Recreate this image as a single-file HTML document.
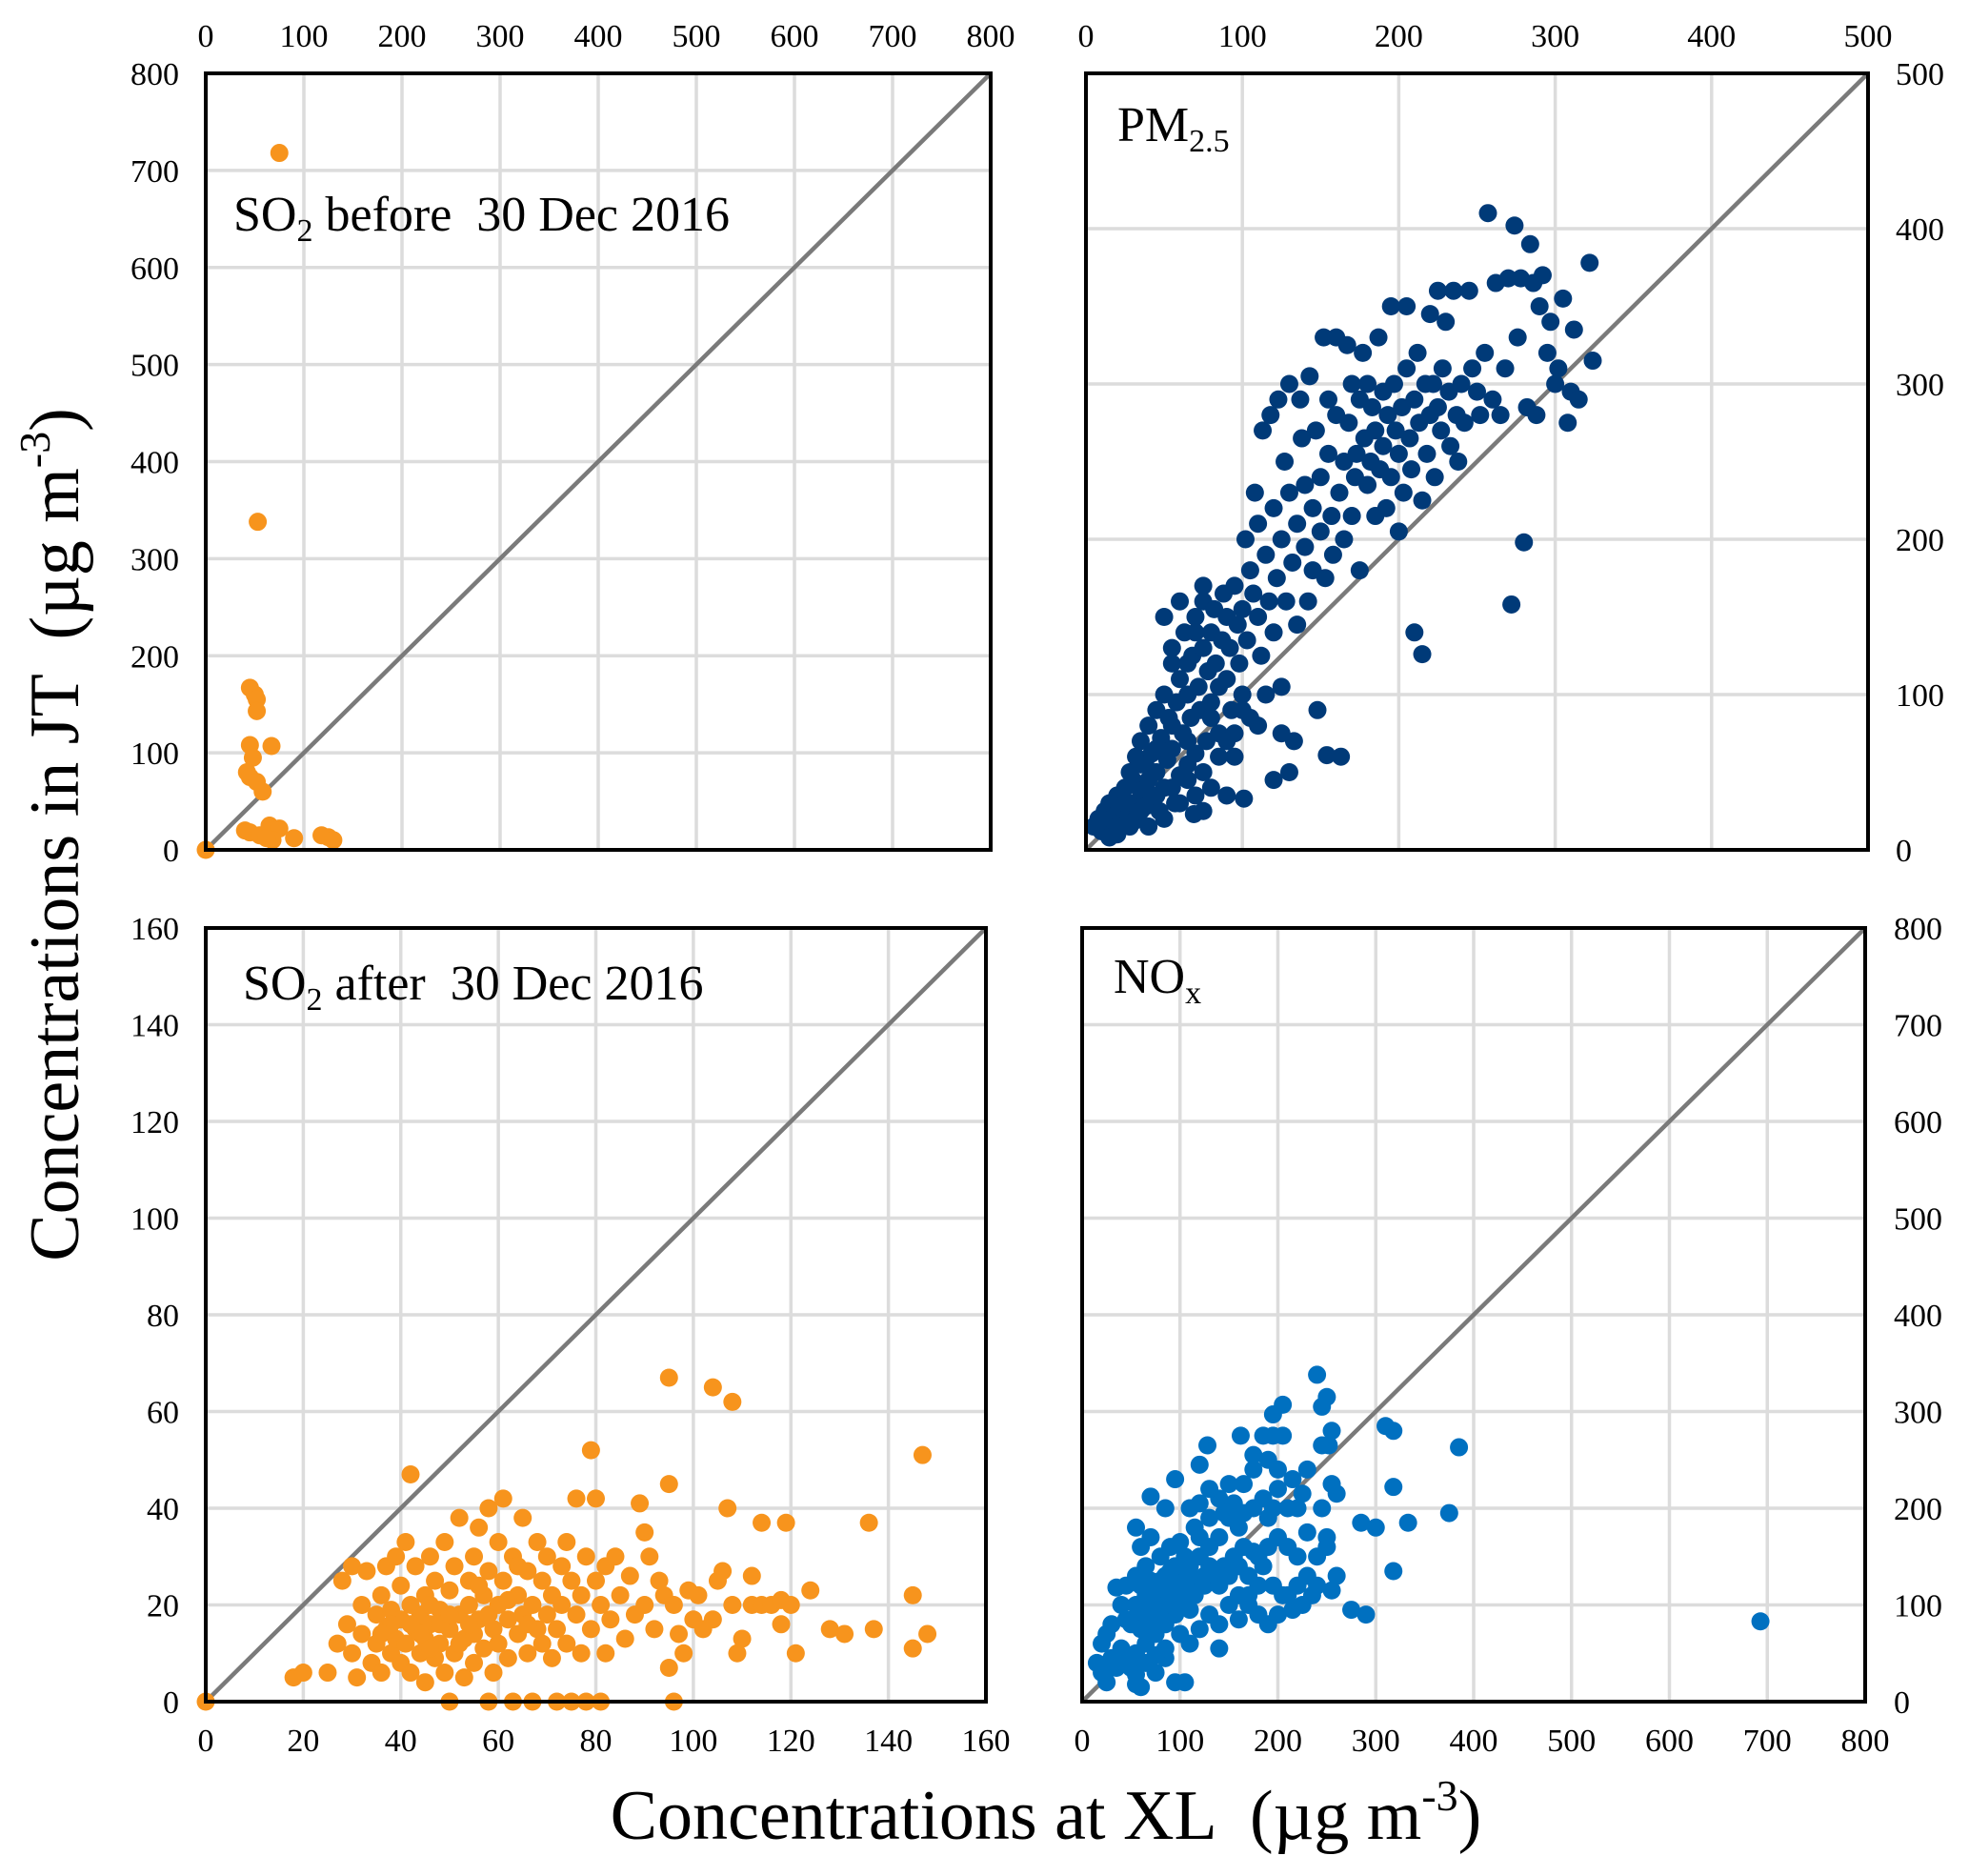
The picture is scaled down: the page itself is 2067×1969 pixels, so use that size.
<!DOCTYPE html>
<html><head><meta charset="utf-8">
<style>
html,body{margin:0;padding:0;background:#fff;}
svg{display:block;font-family:"Liberation Serif",serif;}
text{white-space:pre;}
</style></head>
<body>
<svg id="chart" width="2067" height="1969" viewBox="0 0 2067 1969" xmlns="http://www.w3.org/2000/svg">
<text transform="translate(82,876) rotate(-90)" text-anchor="middle" font-size="74">Concentrations in JT  (µg m<tspan dy="-30" font-size="46">-3</tspan><tspan dy="30">)</tspan></text>
<text x="1098" y="1930" text-anchor="middle" font-size="74">Concentrations at XL  (µg m<tspan dy="-30" font-size="46">-3</tspan><tspan dy="30">)</tspan></text>
</svg>
<script>
// ---- data ----
const so2BeforeX = [0,75,53,45,50,52,52,45,67,48,42,45,52,58,40,45,55,65,70,75,68,90,118,125,130,62];
const so2BeforeY = [0,718,338,167,160,155,143,108,107,95,80,75,70,60,20,18,15,25,20,22,10,12,15,13,10,12];

const pmPts = [[5,15],[8,20],[10,12],[12,25],[15,18],[15,30],[18,22],[20,35],[20,10],[22,28],[25,40],[25,20],[28,15],[28,50],[30,30],[30,45],[32,60],[33,22],[35,38],[35,70],[38,55],[38,28],[40,80],[40,45],[42,35],[42,62],[45,90],[45,50],[47,25],[48,72],[50,100],[50,40],[52,58],[53,85],[55,120],[55,65],[57,30],[58,95],[60,110],[60,48],[62,75],[63,140],[65,55],[65,100],[67,85],[68,125],[70,62],[70,150],[72,105],[73,90],[75,130],[75,160],[77,70],[78,115],[80,140],[80,95],[82,155],[83,120],[85,105],[85,75],[87,135],[88,165],[90,110],[90,150],[92,130],[93,90],[95,170],[95,60],[97,145],[98,120],[100,155],[100,100],[102,200],[103,135],[105,180],[105,85],[107,165],[108,230],[110,150],[110,210],[112,125],[113,270],[115,190],[115,100],[117,160],[118,280],[120,220],[120,140],[122,175],[123,290],[125,200],[125,105],[127,250],[128,160],[130,230],[130,300],[132,185],[133,70],[135,210],[135,145],[137,290],[138,265],[140,195],[140,235],[142,160],[143,305],[145,220],[145,180],[147,270],[148,90],[150,240],[150,205],[152,330],[153,175],[155,255],[155,290],[157,215],[158,190],[160,280],[160,330],[162,230],[163,60],[165,250],[165,200],[167,325],[168,275],[170,215],[170,300],[172,240],[173,255],[175,290],[175,180],[177,320],[178,265],[180,235],[180,300],[182,250],[183,285],[185,215],[185,270],[187,330],[188,245],[190,295],[190,260],[192,220],[193,280],[195,350],[195,240],[197,300],[198,270],[200,255],[200,205],[202,285],[203,230],[205,310],[205,350],[207,265],[208,245],[210,290],[210,140],[212,320],[213,275],[215,126],[215,225],[217,300],[218,255],[220,345],[220,280],[222,300],[223,240],[225,360],[225,285],[227,270],[228,310],[230,340],[232,295],[233,260],[235,360],[237,280],[238,250],[240,300],[242,275],[245,360],[247,310],[250,295],[252,280],[255,320],[257,410],[260,290],[262,365],[265,280],[268,310],[270,368],[272,158],[274,402],[276,330],[278,368],[280,198],[282,285],[284,390],[286,365],[288,280],[290,350],[292,370],[295,320],[297,340],[300,300],[302,310],[305,355],[308,275],[310,295],[312,335],[315,290],[322,378],[324,315],[75,25],[80,40],[90,35],[101,33],[69,23],[120,45],[130,50],[154,61],[125,75],[100,90],[95,75],[110,80],[10,20],[15,8],[20,15],[25,30],[30,18],[35,25],[40,15],[45,35],[50,20],[55,40],[60,30],[65,45],[70,35],[35,55],[45,65],[55,80],[65,70],[75,50],[85,60],[50,150],[60,160],[70,140],[75,170],[55,130],[65,120],[80,85],[90,70]];

const so2AfterPts = [[0,0],[18,5],[20,6],[25,6],[27,12],[28,25],[29,16],[30,28],[30,10],[31,5],[32,20],[32,14],[33,27],[34,8],[35,18],[35,12],[36,22],[36,6],[37,15],[37,28],[38,10],[38,19],[39,13],[39,30],[40,8],[40,17],[40,24],[41,12],[41,33],[42,47],[42,20],[42,6],[43,15],[43,28],[44,10],[44,18],[45,22],[45,4],[45,13],[46,30],[46,16],[47,9],[47,25],[48,19],[48,12],[49,33],[49,6],[50,15],[50,23],[50,0],[51,10],[51,28],[52,18],[52,38],[53,13],[53,5],[54,25],[54,20],[55,30],[55,8],[55,14],[56,17],[56,36],[57,22],[57,11],[58,40],[58,27],[58,0],[59,15],[59,6],[60,20],[60,33],[60,12],[61,25],[61,42],[62,17],[62,9],[63,30],[63,0],[64,22],[64,14],[65,38],[65,18],[66,27],[66,10],[67,20],[67,0],[68,33],[68,15],[69,25],[69,12],[70,18],[70,30],[71,22],[71,9],[72,0],[72,15],[73,28],[73,20],[74,12],[74,33],[75,25],[75,0],[76,18],[76,42],[77,10],[77,22],[78,30],[78,0],[79,52],[79,15],[80,25],[80,42],[81,20],[81,0],[82,10],[82,28],[83,17],[84,30],[85,22],[86,13],[87,26],[88,18],[89,41],[90,20],[90,35],[91,30],[92,15],[93,25],[94,22],[95,7],[95,45],[95,67],[96,0],[96,20],[97,14],[98,10],[99,23],[100,17],[101,22],[102,15],[104,17],[104,65],[105,25],[106,27],[107,40],[108,62],[108,20],[109,10],[110,13],[112,20],[112,26],[114,20],[114,37],[116,20],[118,16],[118,21],[119,37],[120,20],[121,10],[124,23],[128,15],[131,14],[136,37],[137,15],[145,22],[145,11],[147,51],[148,14],[44,14],[46,20],[48,16],[52,12],[54,16],[56,24],[58,18],[62,21],[64,28],[66,16],[46,11],[50,18],[42,16],[38,16],[36,14]];

const noxPts = [[693,83],[240,338],[250,315],[245,305],[205,307],[195,297],[162,275],[185,275],[195,275],[205,275],[128,265],[120,245],[95,230],[85,200],[70,212],[55,180],[310,285],[318,280],[385,263],[318,222],[375,195],[333,185],[300,180],[285,185],[318,135],[290,90],[275,95],[255,280],[252,265],[245,265],[260,215],[255,225],[245,200],[225,215],[215,230],[230,240],[200,240],[190,250],[175,255],[175,240],[210,200],[190,190],[165,225],[150,225],[140,210],[130,220],[120,205],[110,200],[130,190],[150,190],[160,180],[140,170],[120,170],[100,165],[90,160],[80,150],[70,170],[60,160],[65,140],[55,130],[45,120],[40,100],[35,118],[30,80],[25,70],[20,60],[15,40],[20,30],[25,20],[30,45],[40,55],[50,35],[55,18],[60,15],[75,30],[85,45],[95,20],[105,20],[110,60],[120,75],[130,90],[140,80],[150,100],[160,110],[170,100],[180,90],[190,80],[200,90],[210,110],[220,120],[230,130],[240,150],[250,170],[260,130],[235,110],[225,100],[215,95],[195,120],[185,140],[175,155],[165,160],[155,150],[145,140],[135,130],[125,120],[115,110],[105,100],[95,90],[85,80],[75,70],[65,60],[55,50],[45,45],[35,35],[100,130],[90,120],[80,110],[70,100],[60,90],[50,80],[110,140],[120,150],[130,160],[115,180],[105,150],[95,140],[85,130],[75,120],[65,110],[55,100],[45,85],[100,110],[90,100],[80,95],[70,85],[60,75],[140,120],[150,130],[160,140],[170,130],[180,150],[190,160],[200,170],[210,160],[220,150],[195,200],[185,210],[175,200],[165,195],[155,205],[145,195],[200,220],[220,200],[230,175],[250,160],[255,115],[240,120],[205,110],[180,120],[170,110],[160,85],[140,55],[110,95],[100,70],[85,55],[75,48],[65,40],[55,28],[130,140],[125,130],[115,125],[105,120],[95,110],[85,100],[100,120],[110,130],[90,135],[80,125],[70,125],[60,120]];

const so2BeforeXTicks = [0,100,200,300,400,500,600,700,800];
const pmTicks = [0,100,200,300,400,500];
const so2AfterTicks = [0,20,40,60,80,100,120,140,160];
const noxTicks = [0,100,200,300,400,500,600,700,800];

// ---- drawing ----
const NS = "http://www.w3.org/2000/svg";
const svg = document.getElementById('chart');
function mk(tag, attrs, parent){
  const e = document.createElementNS(NS, tag);
  for (const k in attrs) e.setAttribute(k, attrs[k]);
  (parent||svg).appendChild(e);
  return e;
}
function scale(d0,d1,r0,r1){ return v => r0 + (v-d0)/(d1-d0)*(r1-r0); }

function panel(opt){
  const g = mk('g', {});
  
  
  const xs = scale(0, opt.max, opt.x0, opt.x1);
  const ys = scale(0, opt.max, opt.y1, opt.y0);
  opt.ticks.forEach(t => {
    if (t>0 && t<opt.max){
      const gx = mk('line', {x1:xs(t), x2:xs(t), y1:opt.y0, y2:opt.y1, stroke:'#dcdcdc', 'stroke-width':3.5}, g);
      
      
      const gy = mk('line', {x1:opt.x0, x2:opt.x1, y1:ys(t), y2:ys(t), stroke:'#dcdcdc', 'stroke-width':3.5}, g);
      
      
    }
  });
  const dl = mk('line', {x1:xs(0), y1:ys(0), x2:xs(opt.max), y2:ys(opt.max), stroke:'#7a7a7a', 'stroke-width':4.5}, g);
  
  
  for (let i=0;i<opt.xv.length;i++){
    const c = mk('circle', {cx:xs(opt.xv[i]), cy:ys(opt.yv[i]), r:9.5, fill:opt.color}, g);
    
    
  }
  const fr = mk('rect', {x:opt.x0, y:opt.y0, width:opt.x1-opt.x0, height:opt.y1-opt.y0, fill:'none', stroke:'#000', 'stroke-width':4}, g);
  
  
  opt.ticks.forEach(t => {
    const tx = mk('text', {x:xs(t), y:opt.xLabelY, 'text-anchor':'middle', 'font-size':34}, g);
    tx.textContent = t;
    
    
  });
  opt.ticks.forEach(t => {
    const ty = mk('text', {x:opt.yLabelX, y:ys(t)+12, 'text-anchor':opt.yAnchor, 'font-size':34}, g);
    ty.textContent = t;
    
    
  });
  const tt = mk('text', {x:opt.tx, y:opt.ty, 'font-size':52}, g);
  
  
  tt.innerHTML = opt.title;
}

panel({name:'so2-before-panel', x0:216, x1:1040, y0:77, y1:892, max:800,
  ticks:so2BeforeXTicks, xv:so2BeforeX, yv:so2BeforeY, color:'#f7941d',
  xLabelY:49, yLabelX:188, yAnchor:'end', tx:245, ty:242,
  title:'SO<tspan dy="11" font-size="34">2</tspan><tspan dy="-11"> before  30 Dec 2016</tspan>'});

panel({name:'pm25-panel', x0:1140, x1:1961, y0:77, y1:892, max:500,
  ticks:pmTicks, xv:pmPts.map(p=>p[0]), yv:pmPts.map(p=>p[1]), color:'#003a78',
  xLabelY:49, yLabelX:1990, yAnchor:'start', tx:1173, ty:148,
  title:'PM<tspan dy="11" font-size="34">2.5</tspan>'});

panel({name:'so2-after-panel', x0:216, x1:1035, y0:974, y1:1786, max:160,
  ticks:so2AfterTicks, xv:so2AfterPts.map(p=>p[0]), yv:so2AfterPts.map(p=>p[1]), color:'#f7941d',
  xLabelY:1838, yLabelX:188, yAnchor:'end', tx:255, ty:1049,
  title:'SO<tspan dy="11" font-size="34">2</tspan><tspan dy="-11"> after  30 Dec 2016</tspan>'});

panel({name:'nox-panel', x0:1136, x1:1958, y0:974, y1:1786, max:800,
  ticks:noxTicks, xv:noxPts.map(p=>p[0]), yv:noxPts.map(p=>p[1]), color:'#0070c0',
  xLabelY:1838, yLabelX:1988, yAnchor:'start', tx:1169, ty:1042,
  title:'NO<tspan dy="11" font-size="34">x</tspan>'});
</script>
</body></html>
